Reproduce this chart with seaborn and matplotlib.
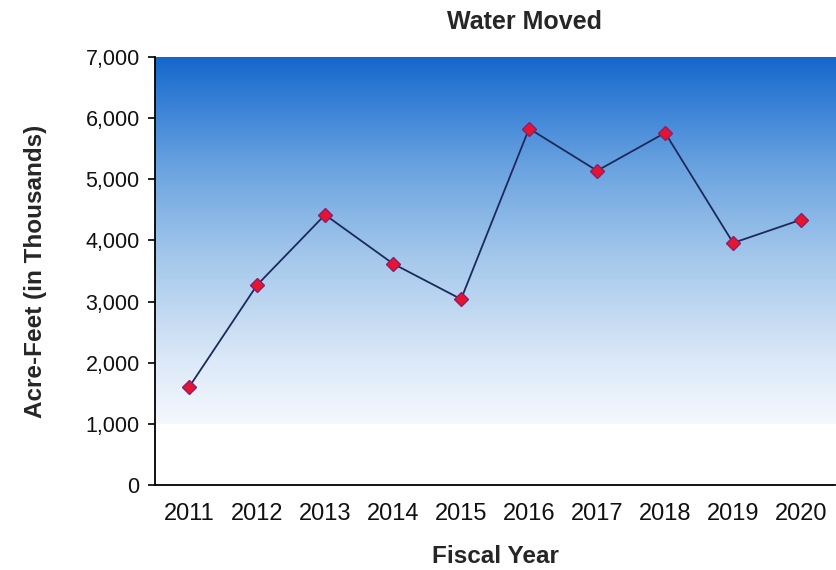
import matplotlib
matplotlib.use("Agg")
import matplotlib.pyplot as plt
import seaborn as sns
import numpy as np
import pandas as pd
from matplotlib.colors import LinearSegmentedColormap
from matplotlib.ticker import FuncFormatter, FixedLocator

years = ["2011", "2012", "2013", "2014", "2015", "2016", "2017", "2018", "2019", "2020"]
water = [1600, 3270, 4420, 3620, 3040, 5830, 5140, 5760, 3960, 4340]
y_ticks = [0, 1000, 2000, 3000, 4000, 5000, 6000, 7000]

sns.set_theme(style="white")
plt.rcParams["font.family"] = ["Liberation Sans", "DejaVu Sans"]

df = pd.DataFrame({"Fiscal Year": years, "Water": water})

fig = plt.figure(figsize=(8.36, 5.70), dpi=100)
ax = fig.add_axes([0.1854, 0.149, 0.8136, 0.751])

# gradient background
cmap = LinearSegmentedColormap.from_list(
    "bg", [(0.0, "#f4f8fd"), (0.17, "#dce9f8"), (0.45, "#a5c8eb"),
           (0.7, "#6aa3e0"), (0.85, "#3f86d8"), (1.0, "#1567cc")])
grad = np.linspace(0, 1, 256).reshape(-1, 1)
ax.imshow(grad, aspect="auto", cmap=cmap, origin="lower",
          extent=[-0.5, 9.5, 1000, 7000], zorder=0)

sns.lineplot(data=df, x="Fiscal Year", y="Water", ax=ax, color="#1b2a5c",
             linewidth=1.3, marker="D", markersize=7,
             markerfacecolor="#e8132e", markeredgecolor="#8a1f6e",
             markeredgewidth=1.0, zorder=3)

ax.set_xlim(-0.5, 9.5)
ax.set_ylim(0, 7000)
ax.set_yticks(y_ticks)
ax.yaxis.set_major_formatter(FuncFormatter(lambda v, p: f"{int(v):,}"))

ax.set_xticks(range(len(years)))
ax.set_xticklabels(years)
ax.xaxis.set_minor_locator(FixedLocator(np.arange(-0.5, 10.0, 1.0)))
ax.tick_params(axis="x", which="major", length=0, pad=13, labelsize=17, colors="#111111")
ax.tick_params(axis="x", which="minor", length=6, width=1.2, color="black", direction="out")
ax.tick_params(axis="y", length=5, width=1.2, color="black", direction="out",
               labelsize=15.5, pad=6, labelcolor="#111111", left=True)

for s in ["top", "right"]:
    ax.spines[s].set_visible(False)
for s in ["left", "bottom"]:
    ax.spines[s].set_color("black")
    ax.spines[s].set_linewidth(1.3)
ax.grid(False)

ax.set_xlabel("Fiscal Year", fontsize=17.5, fontweight="bold", labelpad=14)
ax.set_ylabel("Acre-Feet (in Thousands)", fontsize=17.5, fontweight="bold", labelpad=28)
fig.text(0.627, 0.962, "Water Moved", ha="center", va="center",
         fontsize=18, fontweight="bold")

fig.savefig("out.png", dpi=100, facecolor="white")
